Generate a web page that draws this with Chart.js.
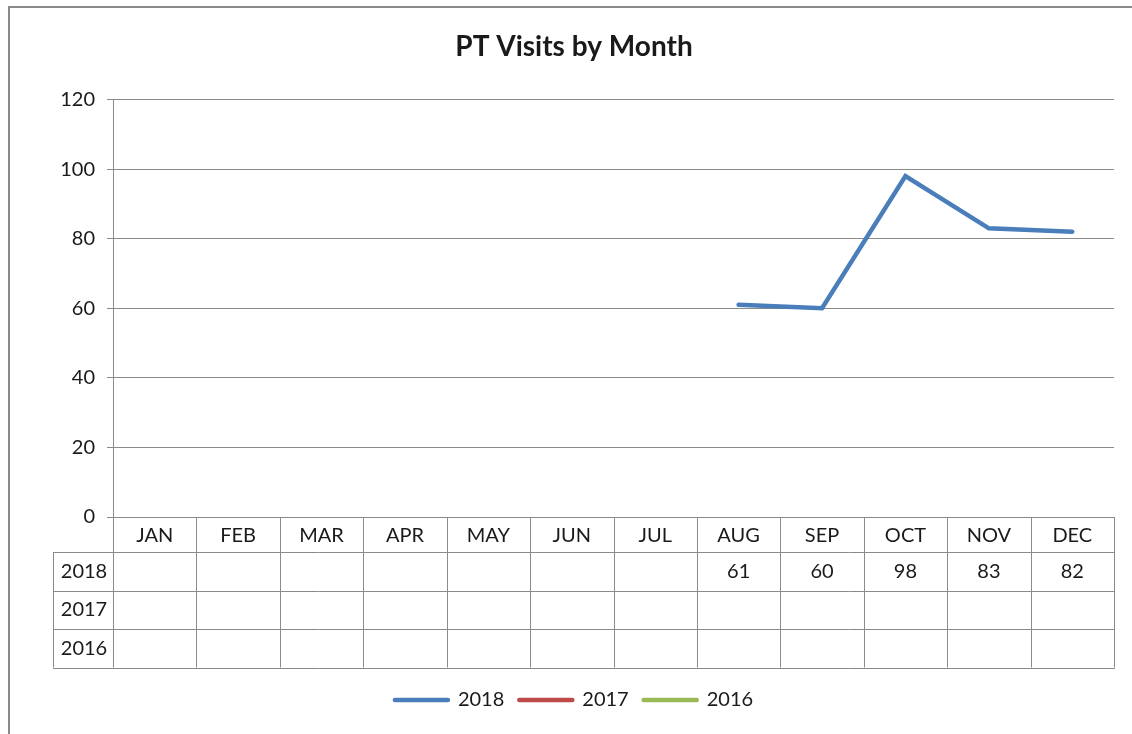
<!DOCTYPE html>
<html>
<head>
<meta charset="utf-8">
<title>PT Visits by Month</title>
<script src="https://cdn.jsdelivr.net/npm/chart.js@4/dist/chart.umd.min.js"></script>
<style>
html, body { margin: 0; padding: 0; background: #fff; }
</style>
</head>
<body>
<canvas id="grafico" width="1132" height="734"></canvas>
<script>
const meses = ['JAN', 'FEB', 'MAR', 'APR', 'MAY', 'JUN', 'JUL', 'AUG', 'SEP', 'OCT', 'NOV', 'DEC'];
const anos = ['2018', '2017', '2016'];
const visitas2018 = [null, null, null, null, null, null, null, 61, 60, 98, 83, 82];
const visitas2017 = [null, null, null, null, null, null, null, null, null, null, null, null];
const visitas2016 = [null, null, null, null, null, null, null, null, null, null, null, null];
const yMin = 0;
const yMax = 120;
const yPasso = 20;

const cinza = '#8a8a8a';
const fonte = 'Lato, "Open Sans", sans-serif';

// moldura do grafico (estilo Excel)
const moldura = {
    id: 'moldura',
    afterDraw(chart) {
        const ctx = chart.ctx;
        ctx.save();
        ctx.strokeStyle = cinza;
        ctx.lineWidth = 2;
        ctx.beginPath();
        ctx.moveTo(9, chart.height);
        ctx.lineTo(9, 7);
        ctx.lineTo(chart.width, 7);
        ctx.stroke();
        ctx.restore();
    }
};

// tabela de dados abaixo do eixo x
const tabela = {
    id: 'tabela',
    afterDraw(chart) {
        const ctx = chart.ctx;
        const x = chart.scales.x;
        const n = meses.length;
        const passo = x.width / n;
        const topo = x.top;
        const cab = 35, linha = 38.5;
        const esq = 53;
        const fundo = topo + cab + anos.length * linha;
        ctx.save();
        ctx.strokeStyle = cinza;
        ctx.lineWidth = 1;
        ctx.beginPath();
        for (let r = 0; r <= anos.length; r++) {
            const y = Math.round(topo + cab + r * linha) + 0.5;
            ctx.moveTo(esq, y);
            ctx.lineTo(x.right + 1, y);
        }
        for (let i = 0; i <= n; i++) {
            const xx = Math.round(x.left + i * passo) + 0.5;
            ctx.moveTo(xx, topo);
            ctx.lineTo(xx, fundo);
        }
        ctx.moveTo(esq + 0.5, topo + cab);
        ctx.lineTo(esq + 0.5, fundo);
        ctx.stroke();

        ctx.font = '20px ' + fonte;
        ctx.fillStyle = '#1a1a1a';
        ctx.textAlign = 'center';
        ctx.textBaseline = 'middle';
        chart.data.datasets.forEach((ds, r) => {
            const yc = topo + cab + r * linha + linha / 2;
            ctx.fillText(ds.label, (esq + x.left) / 2 + 1, yc);
            ds.data.forEach((v, i) => {
                if (v != null) ctx.fillText(String(v), x.getPixelForValue(i), yc);
            });
        });
        ctx.restore();
    }
};

const dados = {
    labels: meses,
    datasets: [
        { label: anos[0], data: visitas2018, borderColor: '#4A7EBB', backgroundColor: '#4A7EBB' },
        { label: anos[1], data: visitas2017, borderColor: '#BE4B48', backgroundColor: '#BE4B48' },
        { label: anos[2], data: visitas2016, borderColor: '#98B954', backgroundColor: '#98B954' }
    ]
};

const config = {
    type: 'line',
    data: dados,
    options: {
        responsive: false,
        animation: false,
        layout: { padding: { left: 34, right: 18, top: 0, bottom: 14 } },
        elements: {
            line: { borderWidth: 4.5, tension: 0, borderCapStyle: 'round', borderJoinStyle: 'miter' },
            point: { radius: 0, hoverRadius: 0 }
        },
        scales: {
            x: {
                offset: true,
                grid: { display: false, drawTicks: false },
                border: { display: false },
                ticks: { color: '#1a1a1a', font: { family: fonte, size: 20 }, padding: 7, maxRotation: 0, autoSkip: false },
                afterFit: s => { s.height = 158; }
            },
            y: {
                min: yMin,
                max: yMax,
                ticks: { stepSize: yPasso, color: '#1a1a1a', font: { family: fonte, size: 20 }, padding: 12 },
                grid: { color: cinza, lineWidth: 1, drawTicks: true, tickLength: 6, tickColor: cinza },
                border: { display: true, color: cinza, width: 1 },
                afterFit: s => { s.width = 79; }
            }
        },
        plugins: {
            title: {
                display: true,
                text: 'PT Visits by Month',
                color: '#1a1a1a',
                font: { family: fonte, size: 28, weight: 'bold' },
                padding: { top: 30, bottom: 36 }
            },
            legend: {
                position: 'bottom',
                labels: {
                    usePointStyle: true,
                    pointStyleWidth: 53,
                    padding: 15,
                    color: '#1a1a1a',
                    font: { family: fonte, size: 20 },
                    generateLabels: chart => chart.data.datasets.map((ds, i) => ({
                        text: ds.label,
                        fillStyle: ds.borderColor,
                        strokeStyle: ds.borderColor,
                        lineWidth: 4.5,
                        lineCap: 'round',
                        pointStyle: 'line',
                        hidden: false,
                        datasetIndex: i,
                        fontColor: '#1a1a1a'
                    }))
                }
            },
            tooltip: { enabled: false }
        }
    },
    plugins: [moldura, tabela]
};

const grafico = new Chart(document.getElementById('grafico'), config);
</script>
</body>
</html>
